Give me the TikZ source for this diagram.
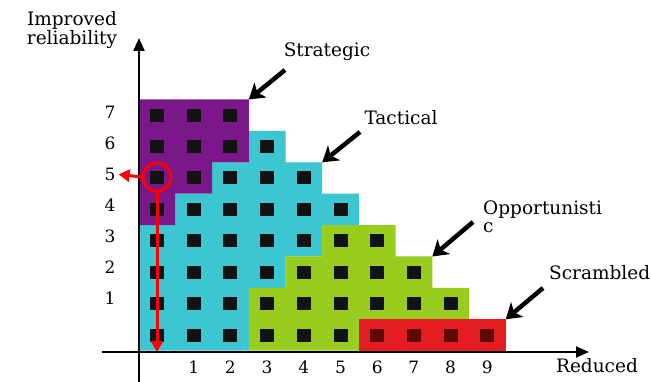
\documentclass[tikz,border=0pt]{standalone}
\usepackage{fontspec}
\setmainfont{DejaVu Serif}
\usetikzlibrary{arrows.meta}
\definecolor{cpurple}{RGB}{122,24,138}
\definecolor{ccyan}{RGB}{60,198,210}
\definecolor{cgreen}{RGB}{152,204,30}
\definecolor{cred}{RGB}{228,30,32}
\definecolor{cdark}{RGB}{18,18,18}
\definecolor{cdarkred}{RGB}{95,8,8}
\begin{document}
\begin{tikzpicture}[x=1pt,y=-1pt,
  lab/.style={font=\fontsize{18.5}{21}\selectfont, inner sep=0pt},
  num/.style={font=\fontsize{17}{19}\selectfont, inner sep=0pt},
  axisline/.style={line width=2pt, -{Triangle[width=11pt,length=13pt]}},
  pointer/.style={line width=4.5pt, -{Stealth[width=19pt,length=15pt,inset=4pt]}},
  redline/.style={red, line width=3pt, -{Triangle[width=12pt,length=11pt]}},
  sq/.style={cdark}]
\fill[white] (0,0) rectangle (651,382);
\useasboundingbox (0,0) rectangle (651,382);

% staircase of cells
\begin{scope}[shift={(138.7,350.7)}, x=36.7pt, y=31.4pt]
  \fill[ccyan] (0,0) -- (3,0) -- (3,2) -- (4,2) -- (4,3) -- (5,3) -- (5,4) -- (6,4) -- (6,5) -- (5,5) -- (5,6) -- (4,6) -- (4,7) -- (3,7) -- (3,6) -- (2,6) -- (2,5) -- (1,5) -- (1,4) -- (0,4) -- cycle;
  \fill[cpurple] (0,8) -- (3,8) -- (3,6) -- (2,6) -- (2,5) -- (1,5) -- (1,4) -- (0,4) -- cycle;
  \fill[cgreen] (3,0) -- (6,0) -- (6,1) -- (9,1) -- (9,2) -- (8,2) -- (8,3) -- (7,3) -- (7,4) -- (5,4) -- (5,3) -- (4,3) -- (4,2) -- (3,2) -- cycle;
  \fill[cred] (6,0) rectangle (10,1);
  \foreach \r in {0,...,7} {
    \pgfmathtruncatemacro\cmax{9-\r}
    \foreach \c in {0,...,\cmax} {
      \fill[sq] (\c+0.5,\r+0.5) ++(-7pt,-6.5pt) rectangle ++(14pt,13pt);
    }
  }
  \foreach \c in {6,...,9} {
    \fill[cdarkred] (\c+0.5,0.5) ++(-7pt,-6.5pt) rectangle ++(14pt,13pt);
  }
  \coordinate (cS) at (3,8);
  \coordinate (cT) at (5,6);
  \coordinate (cO) at (8,3);
  \coordinate (cR) at (10,1);
\end{scope}

% axes
\coordinate (ybot) at (139,382);
\coordinate (ytop) at (139,38);
\coordinate (xL) at (102,352);
\coordinate (xR) at (589,352);
\draw[axisline] (xL) -- (xR);
\draw[axisline] (ybot) -- (ytop);

% axis titles
\node[lab] (improved) at (72,20) {Improved};
\node[lab] (reliab) at (72,40) {reliability};
\node[lab] (reduced) at (597,366) {Reduced};

% tick labels
\foreach \k in {1,...,7} \node[num] (y\k) at (110,{329-31*\k}) {\k};
\foreach \k in {1,...,9} \node[num] (x\k) at ({157+36.7*\k},367) {\k};

% category labels
\node[lab] (strategic) at (327,52) {Strategic};
\node[lab] (tactical) at (401,118) {Tactical};
\node[lab, anchor=west] (opp) at (483,210) {Opportunisti};
\node[lab, anchor=west] (oppc) at (483,228) {c};
\node[lab, anchor=west] (scr) at (549,273) {Scrambled};

% pointer arrows
\coordinate (tS) at (285,70);
\coordinate (tT) at (360,132);
\coordinate (tO) at (473,222);
\coordinate (tR) at (543,288);
\draw[pointer] (tS) -- (cS);
\draw[pointer] (tT) -- (cT);
\draw[pointer] (tO) -- (cO);
\draw[pointer] (tR) -- (cR);

% red selection
\node[circle, draw=red, line width=3pt, minimum size=28pt, inner sep=0pt] (sel) at (157,177) {};
\draw[redline, shorten >=3pt] (sel.west) -- (y5.east);
\draw[redline] (sel.south) -- (sel.south |- xL);
\end{tikzpicture}
\end{document}
